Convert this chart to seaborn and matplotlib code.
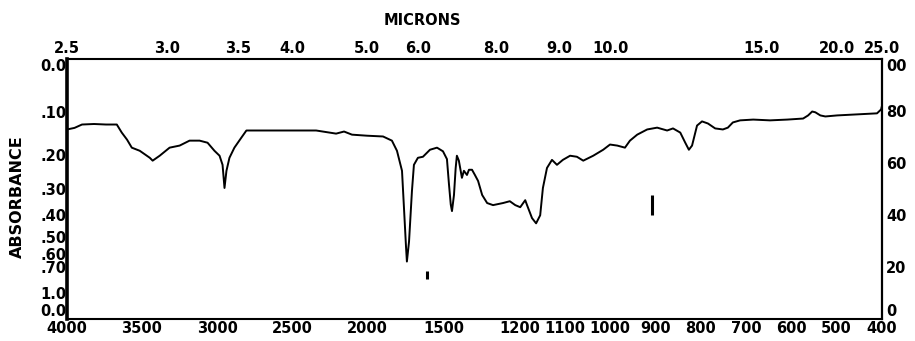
import numpy as np
import pandas as pd
import matplotlib
matplotlib.use("Agg")
import matplotlib.pyplot as plt
import seaborn as sns

sns.set_style("white")
plt.rcParams['font.family'] = ['DejaVu Sans']
plt.rcParams['font.weight'] = 'bold'
plt.rcParams['text.color'] = 'black'
plt.rcParams['axes.labelcolor'] = 'black'
plt.rcParams['xtick.color'] = 'black'
plt.rcParams['ytick.color'] = 'black'

# IR spectrum: wavenumber (cm-1) and % transmittance
wavenumber = [4000, 3950, 3900, 3820, 3740, 3668, 3635, 3600, 3568, 3515,
              3448, 3429, 3382, 3316, 3249, 3183, 3116, 3063, 3017, 2983,
              2963, 2950, 2937, 2917, 2884, 2837, 2804, 2718, 2565, 2339,
              2206, 2153, 2100, 2000, 1895, 1837, 1804, 1771, 1758, 1745,
              1739, 1725, 1706, 1693, 1667, 1634, 1588, 1542, 1503, 1477,
              1464, 1452, 1444, 1431, 1420, 1412, 1399, 1379, 1366, 1346,
              1333, 1313, 1298, 1291, 1282, 1271, 1258, 1236, 1221, 1209,
              1198, 1187, 1183, 1172, 1163, 1154, 1148, 1139, 1128, 1117,
              1104, 1088, 1073, 1059, 1037, 1015, 1000, 984, 967, 956,
              940, 918, 896, 874, 861, 845, 834, 826, 819, 808,
              797, 784, 768, 751, 740, 729, 713, 684, 647, 609,
              574, 563, 554, 547, 536, 525, 499, 455, 411, 402, 400]
transmittance = [72.9, 73.5, 74.8, 75.0, 74.8, 74.8, 71.7, 69.0, 65.9, 64.7,
                 62.0, 60.9, 62.8, 65.9, 66.7, 68.6, 68.6, 67.8, 64.7, 62.8,
                 59.3, 50.4, 57.0, 62.0, 65.9, 69.8, 72.5, 72.5, 72.5, 72.5,
                 71.3, 72.1, 70.9, 70.5, 70.2, 68.6, 64.7, 57.0, 42.6, 28.0,
                 22.1, 29.8, 49.2, 59.3, 62.0, 62.4, 65.1, 65.9, 64.5, 61.5,
                 52.0, 44.0, 41.5, 47.7, 58.0, 62.8, 60.9, 54.3, 57.0, 55.4,
                 57.4, 57.4, 55.4, 53.1, 47.7, 44.6, 43.8, 44.6, 45.3, 43.8,
                 43.0, 45.7, 43.8, 38.8, 36.8, 39.9, 50.4, 58.1, 61.2, 59.3,
                 61.2, 62.8, 62.4, 60.9, 62.8, 65.1, 67.1, 66.7, 65.9, 68.6,
                 70.9, 72.9, 73.6, 72.5, 73.3, 71.7, 67.8, 65.1, 66.7, 74.4,
                 76.0, 75.2, 73.3, 72.9, 73.6, 75.6, 76.4, 76.7, 76.4, 76.7,
                 77.1, 78.3, 79.8, 79.5, 78.3, 77.9, 78.3, 78.7, 79.1, 80.6, 82.0]

# stray pen marks on the chart (wavenumber, T from, T to)
mark_wn = [1608, 907]
mark_lo = [15.5, 39.9]
mark_hi = [18.6, 47.7]

bottom_ticks = [4000, 3500, 3000, 2500, 2000, 1500, 1200, 1100, 1000, 900, 800, 700, 600, 500, 400]
micron_ticks = [2.5, 3.0, 3.5, 4.0, 5.0, 6.0, 8.0, 9.0, 10.0, 15.0, 20.0, 25.0]
abs_ticks = [0.0, 0.10, 0.20, 0.30, 0.40, 0.50, 0.60, 0.70, 1.0]
abs_labels = ['0.0', '.10', '.20', '.30', '.40', '.50', '.60', '.70', '1.0']
trans_ticks = [100, 80, 60, 40, 20, 0]
trans_labels = ['00', '80', '60', '40', '20', '0']

# chart paper has a 3x expanded scale below 1300 cm-1
brk_wn = [400, 1300, 2000, 4000]
brk_pos = [-815, -407, -300, 0]


def fwd(w):
    return np.interp(w, brk_wn, brk_pos)


def inv(p):
    return np.interp(p, brk_pos, brk_wn)


df = pd.DataFrame({'wavenumber': wavenumber, 'T': transmittance})

fig = plt.figure(figsize=(9.15, 3.41), dpi=100)
ax = fig.add_axes([67 / 915, 1 - 319 / 341, 815 / 915, 260 / 341])
ax.set_xscale('function', functions=(fwd, inv))

sns.lineplot(data=df, x='wavenumber', y='T', ax=ax, color='black',
             linewidth=1.4, sort=False, estimator=None)
ax.vlines(mark_wn, mark_lo, mark_hi, color='black', linewidth=2.2)

ax.set_xlim(4000, 400)
ax.set_ylim(0, 100)
fs = 10.5

ax.set_xticks(bottom_ticks)
ax.set_xticklabels([str(t) for t in bottom_ticks], fontsize=fs, fontweight='bold')
ax.set_yticks([100 * 10 ** (-a) for a in abs_ticks] + [0])
ylabs = ax.set_yticklabels(abs_labels + ['0.0'], fontsize=fs, fontweight='bold')
ylabs[0].set_va('top')
ylabs[-1].set_va('bottom')
ax.tick_params(axis='x', length=0, pad=1.5)
ax.tick_params(axis='y', length=0, pad=0.5)
ax.set_xlabel('')
ax.set_ylabel('ABSORBANCE', fontsize=11.5, fontweight='bold')
ax.yaxis.set_label_coords(-0.052, 0.47)

for side, lw in [('left', 2.6), ('right', 1.6), ('top', 1.5), ('bottom', 1.5)]:
    ax.spines[side].set_visible(True)
    ax.spines[side].set_linewidth(lw)
    ax.spines[side].set_color('black')

# micron scale on top
ax_top = ax.twiny()
ax_top.set_xscale('function', functions=(fwd, inv))
ax_top.set_xlim(4000, 400)
ax_top.set_xticks([10000 / m for m in micron_ticks])
ax_top.set_xticklabels([f'{m:.1f}' for m in micron_ticks], fontsize=fs, fontweight='bold')
ax_top.tick_params(axis='x', length=0, pad=2)
ax_top.set_xlabel('MICRONS', fontsize=fs, fontweight='bold')
ax_top.xaxis.set_label_coords(0.436, 1.13)

# transmittance scale on the right
ax_right = ax.twinx()
ax_right.set_ylim(0, 100)
ax_right.set_yticks(trans_ticks)
rlabs = ax_right.set_yticklabels(trans_labels, fontsize=fs, fontweight='bold')
rlabs[0].set_va('top')
rlabs[-1].set_va('bottom')
ax_right.tick_params(axis='y', length=0, pad=3)

for a in (ax_top, ax_right):
    for s in a.spines.values():
        s.set_visible(False)

fig.savefig('out.png', dpi=100)
